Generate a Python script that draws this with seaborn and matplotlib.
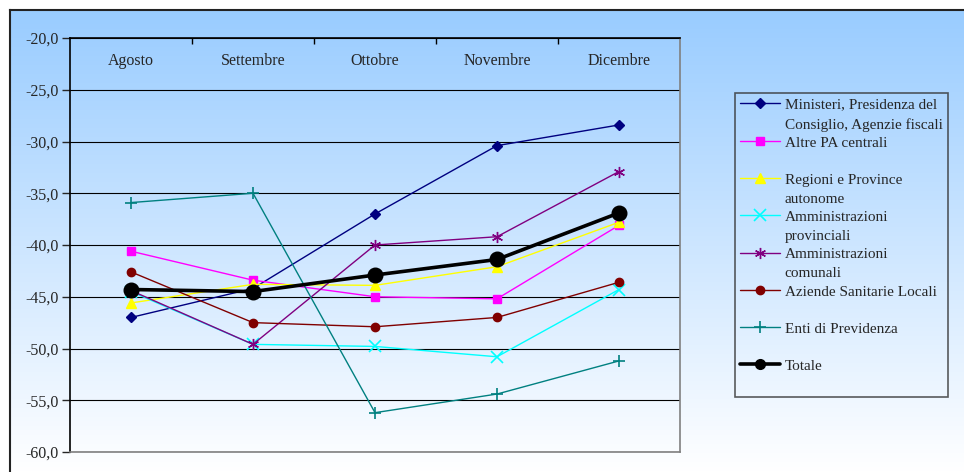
import numpy as np
import pandas as pd
import seaborn as sns
import matplotlib.pyplot as plt
from matplotlib.legend_handler import HandlerLine2D
from matplotlib.ticker import FuncFormatter, FixedLocator

# --- data ---
months = ["Agosto", "Settembre", "Ottobre", "Novembre", "Dicembre"]
ministeri = [-47.0, -44.2, -37.0, -30.4, -28.4]
altre_pa = [-40.6, -43.4, -45.0, -45.2, -38.1]
regioni = [-45.6, -43.8, -43.9, -42.1, -37.8]
amm_prov = [-44.5, -49.6, -49.8, -50.8, -44.3]
amm_com = [-44.4, -49.6, -40.0, -39.2, -32.9]
aziende = [-42.6, -47.5, -47.9, -47.0, -43.6]
enti = [-35.9, -35.0, -56.2, -54.4, -51.2]
totale = [-44.3, -44.5, -42.9, -41.4, -36.9]

labels = [
    "Ministeri, Presidenza del\nConsiglio, Agenzie fiscali",
    "Altre PA centrali\n ",
    "Regioni e Province\nautonome",
    "Amministrazioni\nprovinciali",
    "Amministrazioni\ncomunali",
    "Aziende Sanitarie Locali\n ",
    "Enti di Previdenza\n ",
    "Totale\n ",
]
series = [ministeri, altre_pa, regioni, amm_prov, amm_com, aziende, enti, totale]
colors = ["#000080", "#FF00FF", "#FFFF00", "#00FFFF", "#800080", "#800000", "#008080", "#000000"]
markers = ["D", "s", "^", "x", (6, 2, 0), "o", "+", "o"]
msizes = [5, 6, 7, 8, 8, 6, 8, 10.5]
mews = [1, 1, 1, 1.2, 1, 1, 1.2, 1]
lwidths = [1, 1, 1, 1, 1, 1, 1, 2.6]

df = pd.DataFrame({
    "mese": months * len(series),
    "valore": np.concatenate(series),
    "serie": np.repeat(labels, len(months)),
})

sns.set_style("white")
plt.rcParams["font.family"] = ["Liberation Serif", "DejaVu Serif"]

fig = plt.figure(figsize=(9.64, 4.72), dpi=100)

# gradient background frame
bg = fig.add_axes([10 / 964, 0, 1 - 10 / 964, 1 - 10 / 472], zorder=-5)
top = np.array([153, 204, 255]) / 255
bottom = np.array([255, 255, 255]) / 255
t = np.linspace(0, 1, 256)[:, None]
grad = top * (1 - t) + bottom * t
bg.imshow(grad[:, None, :], aspect="auto", extent=[0, 1, 0, 1])
bg.set_xticks([])
bg.set_yticks([])
for s in ["right", "bottom"]:
    bg.spines[s].set_visible(False)
for s in ["left", "top"]:
    bg.spines[s].set_color("#222222")
    bg.spines[s].set_linewidth(1.5)

ax = fig.add_axes([70 / 964, 20 / 472, 610 / 964, 414 / 472])
ax.set_facecolor("none")

for lab, col, mk, ms, mew, lw in zip(labels, colors, markers, msizes, mews, lwidths):
    sub = df[df["serie"] == lab]
    sns.lineplot(data=sub, x="mese", y="valore", ax=ax, color=col, marker=mk,
                 markersize=ms, markeredgewidth=mew, markeredgecolor=col,
                 linewidth=lw, label=lab, zorder=5 if lab.startswith("Totale") else 3)

ax.set_xlim(-0.5, len(months) - 0.5)
ax.set_ylim(-60, -20)
ax.set_yticks(np.arange(-60, -19, 5))
ax.yaxis.set_major_formatter(FuncFormatter(lambda v, p: f"{v:.1f}".replace(".", ",")))
ax.grid(axis="y", color="black", linewidth=0.8)
ax.set_axisbelow(True)

ax.xaxis.tick_top()
ax.set_xticks(range(len(months)))
ax.set_xticklabels(months)
ax.xaxis.set_minor_locator(FixedLocator([0.5, 1.5, 2.5, 3.5]))
ax.tick_params(axis="x", which="major", length=0, pad=-22, labelsize=11.5)
ax.tick_params(axis="x", which="minor", top=True, direction="in", length=4, width=1, color="black")
ax.tick_params(axis="y", left=True, direction="out", length=6, width=1, pad=2, labelsize=11.5)
ax.set_xlabel("")
ax.set_ylabel("")

ax.spines["top"].set_color("black")
ax.spines["top"].set_linewidth(1.2)
ax.spines["left"].set_color("black")
ax.spines["left"].set_linewidth(1.2)
for s in ["right", "bottom"]:
    ax.spines[s].set_visible(True)
    ax.spines[s].set_color("#808080")
    ax.spines[s].set_linewidth(1.2)


class ShiftedLine(HandlerLine2D):
    # put the handle on the first line of a two-line label
    def create_artists(self, legend, orig_handle, xdescent, ydescent, width, height, fontsize, trans):
        arts = super().create_artists(legend, orig_handle, xdescent, ydescent, width, height, fontsize, trans)
        for a in arts:
            a.set_ydata(np.asarray(a.get_ydata()) + fontsize * 0.75)
            if a.get_markersize() > 9:
                a.set_markersize(7)
        return arts


handles, labs = ax.get_legend_handles_labels()
leg = fig.legend(handles, labs, loc="upper left", bbox_to_anchor=(735 / 964, 1 - 93 / 472),
                 frameon=True, fancybox=False, fontsize=11, handlelength=2.6,
                 handletextpad=0.3, labelspacing=0.34, borderpad=0.35, borderaxespad=0,
                 handler_map={type(handles[0]): ShiftedLine()})
for txt in leg.get_texts():
    txt.set_linespacing(1.6)
fr = leg.get_frame()
fr.set_facecolor("none")
fr.set_edgecolor("#333333")
fr.set_linewidth(1.2)
if ax.get_legend():
    ax.get_legend().remove()

fig.savefig("out.png", dpi=100)
